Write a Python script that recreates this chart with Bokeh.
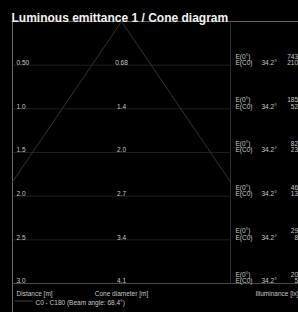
import math
from bokeh.plotting import figure
from bokeh.models import Range1d, Label
from bokeh.embed import file_html
from bokeh.resources import INLINE
from bokeh.core.properties import value

# ---------------- data ----------------
chart_title = "Luminous emittance 1 / Cone diagram"
distances = [0.5, 1.0, 1.5, 2.0, 2.5, 3.0]
distance_labels = ["0.50", "1.0", "1.5", "2.0", "2.5", "3.0"]
diameter_labels = ["0.68", "1.4", "2.0", "2.7", "3.4", "4.1"]
e0_values = [743.0, 185.8, 82.6, 46.4, 29.7, 20.6]
ec0_values = [210.0, 52.5, 23.3, 13.1, 8.4, 5.8]
half_angle = 34.2
beam_angle = 68.4
legend_text = "C0 - C180 (Beam angle: 68.4°)"

# ---------------- layout ----------------
W, H = 298, 312
PX = 87.33          # pixels per metre (isotropic)
AX, AY = 121, 21    # apex position in figure pixels


def X(px):
    return (px - AX) / PX


def Y(py):
    return (py - AY) / PX


FONT = value("Liberation Sans")
TXT = "#c8c8c8"
FS = "6.5px"

p = figure(width=W, height=H, output_backend="svg", toolbar_location=None,
           x_range=Range1d(X(0), X(W)), y_range=Range1d(Y(H), Y(0)),
           min_border=0, background_fill_color="black", border_fill_color="black")
p.axis.visible = False
p.grid.visible = False
p.outline_line_color = None

box_l, box_r = X(12), X(230)
dmax = distances[-1]

# row lines
p.segment(x0=[box_l] * (len(distances) - 1), y0=distances[:-1],
          x1=[box_r] * (len(distances) - 1), y1=distances[:-1],
          line_color="#1f1f1f", line_width=1)
# bottom line
p.segment(x0=[box_l], y0=[dmax], x1=[X(W)], y1=[dmax], line_color="#4a4a4a", line_width=1)
# top border
p.segment(x0=[X(11)], y0=[0], x1=[X(W)], y1=[0], line_color="#646464", line_width=1)
# left border
p.segment(x0=[box_l], y0=[0], x1=[box_l], y1=[Y(H)], line_color="#6a6a6a", line_width=1)
# separator
p.segment(x0=[box_r], y0=[0], x1=[box_r], y1=[dmax], line_color="#2c2c2c", line_width=1)

# cone
t = math.tan(math.radians(half_angle))
d_end_l = min(dmax, -box_l / t)
d_end_r = min(dmax, box_r / t)
p.line(x=[-d_end_l * t, 0, d_end_r * t], y=[d_end_l, 0, d_end_r],
       line_color="#333333", line_width=1)

# row texts
n = len(distances)
common = dict(text_font=FONT, text_font_size=FS, text_color=TXT)
p.text(x=[X(16)] * n, y=distances, text=distance_labels, y_offset=-2.5,
       text_align="left", text_baseline="alphabetic", **common)
p.text(x=[0] * n, y=distances, text=diameter_labels, y_offset=-2.5,
       text_align="center", text_baseline="alphabetic", **common)
p.text(x=[X(235)] * n, y=distances, text=["E(0°)"] * n, y_offset=-9,
       text_align="left", text_baseline="alphabetic", **common)
p.text(x=[X(235)] * n, y=distances, text=["E(C0)"] * n, y_offset=-2.5,
       text_align="left", text_baseline="alphabetic", **common)
p.text(x=[X(261)] * n, y=distances, text=[f"{half_angle}°"] * n, y_offset=-2.5,
       text_align="left", text_baseline="alphabetic", **common)
p.text(x=[X(303)] * n, y=distances, text=[f"{v:.1f}" for v in e0_values], y_offset=-9,
       text_align="right", text_baseline="alphabetic", **common)
p.text(x=[X(303)] * n, y=distances, text=[f"{v:.1f}" for v in ec0_values], y_offset=-2.5,
       text_align="right", text_baseline="alphabetic", **common)

# axis captions
p.text(x=[X(16)], y=[dmax], text=["Distance [m]"], y_offset=10,
       text_align="left", text_baseline="alphabetic", **common)
p.text(x=[0], y=[dmax], text=["Cone diameter [m]"], y_offset=10,
       text_align="center", text_baseline="alphabetic", **common)
p.text(x=[X(255)], y=[dmax], text=["Illuminance [lx]"], y_offset=10,
       text_align="left", text_baseline="alphabetic", **common)

# legend
p.segment(x0=[X(14)], y0=[Y(300.5)], x1=[X(32)], y1=[Y(300.5)], line_color="#404040", line_width=1)
p.text(x=[X(35)], y=[Y(302)], text=[legend_text],
       text_align="left", text_baseline="alphabetic", **common)

# title
p.add_layout(Label(x=11, y=H - 17.5, x_units="screen", y_units="screen", text=chart_title,
                   text_font="Liberation Sans", text_font_style="bold", text_font_size="12px",
                   text_color="#f2f2f2", text_baseline="alphabetic"))

html = file_html(p, INLINE, title="Cone diagram")
html = html.replace("</head>", "<style>html,body{background:#000;overflow:hidden;}</style></head>", 1)
open("out.html", "w").write(html)
